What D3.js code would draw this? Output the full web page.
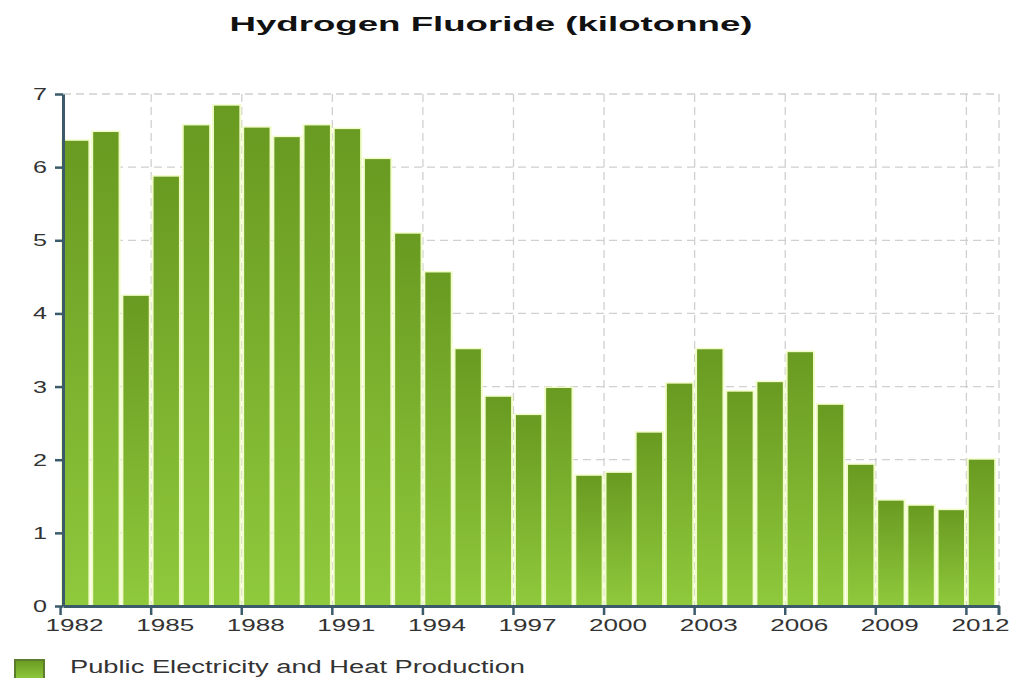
<!DOCTYPE html>
<html lang="en">
<head>
    <meta charset="UTF-8">
    <title>Hydrogen Fluoride (kilotonne)</title>
    <script src="https://d3js.org/d3.v7.min.js"></script>
    <style>
        body {
            margin: 0;
            background: #fff;
            font-family: "Liberation Sans", Arial, sans-serif;
        }
    </style>
</head>
<body>
    <div id="chart"></div>

    <script>
        // data
        const years = d3.range(1982, 2013).map(String);
        const values = [6.36, 6.48, 4.24, 5.87, 6.57, 6.84, 6.54, 6.41, 6.57, 6.52,
                        6.11, 5.09, 4.56, 3.51, 2.86, 2.61, 2.98, 1.78, 1.82, 2.37,
                        3.04, 3.51, 2.93, 3.06, 3.47, 2.75, 1.93, 1.44, 1.37, 1.31, 2.00];
        const yTicks = [0, 1, 2, 3, 4, 5, 6, 7];
        const xTickYears = ["1982", "1985", "1988", "1991", "1994", "1997", "2000", "2003", "2006", "2009", "2012"];
        const seriesName = "Public Electricity and Heat Production";

        const width = 1017, height = 678;
        const margin = {top: 94, right: 18, bottom: 72, left: 63};
        const innerW = width - margin.left - margin.right;
        const innerH = height - margin.top - margin.bottom;

        // the source picture is stretched sideways, so text gets stretched too
        const stretch = 1.42;

        const svg = d3.select("#chart").append("svg")
            .attr("width", width)
            .attr("height", height);

        const defs = svg.append("defs");
        const grad = defs.append("linearGradient")
            .attr("id", "barGrad")
            .attr("x1", 0).attr("y1", 0).attr("x2", 0).attr("y2", 1);
        grad.append("stop").attr("offset", "0%").attr("stop-color", "#699a21");
        grad.append("stop").attr("offset", "100%").attr("stop-color", "#8fc93c");

        svg.append("text")
            .attr("x", 491)
            .attr("y", 31)
            .attr("text-anchor", "middle")
            .attr("textLength", 523)
            .attr("lengthAdjust", "spacingAndGlyphs")
            .style("font-weight", "bold")
            .style("font-size", "21px")
            .attr("fill", "#111")
            .text("Hydrogen Fluoride (kilotonne)");

        const g = svg.append("g")
            .attr("transform", `translate(${margin.left},${margin.top})`);

        const x = d3.scaleBand()
            .domain(years)
            .range([0, innerW])
            .paddingInner(0.16)
            .paddingOuter(0.08)
            .align(0);

        const y = d3.scaleLinear()
            .domain([0, 7])
            .range([innerH, 0]);

        const bandStart = d => x(d) - x.step() * x.paddingOuter();

        // grid
        const grid = g.append("g").attr("class", "grid");
        grid.selectAll("line.h")
            .data(yTicks.filter(d => d > 0))
            .enter().append("line")
            .attr("class", "h")
            .attr("x1", 0).attr("x2", innerW)
            .attr("y1", d => y(d)).attr("y2", d => y(d));
        grid.selectAll("line.v")
            .data(xTickYears.slice(1))
            .enter().append("line")
            .attr("class", "v")
            .attr("x1", d => bandStart(d)).attr("x2", d => bandStart(d))
            .attr("y1", 0).attr("y2", innerH);
        grid.append("line")
            .attr("x1", innerW).attr("x2", innerW)
            .attr("y1", 0).attr("y2", innerH);
        grid.selectAll("line")
            .attr("stroke", "#d0d0d0")
            .attr("stroke-width", 1.3)
            .attr("stroke-dasharray", "8,5");

        // pale halo behind each bar
        g.selectAll("rect.halo")
            .data(values)
            .enter().append("rect")
            .attr("class", "halo")
            .attr("x", (d, i) => x(years[i]) - 2)
            .attr("width", x.bandwidth() + 4)
            .attr("y", d => y(d) - 1.5)
            .attr("height", d => innerH - y(d) + 1.5)
            .attr("fill", "#f1fcc8");

        // bars
        g.selectAll("rect.bar")
            .data(values)
            .enter().append("rect")
            .attr("class", "bar")
            .attr("x", (d, i) => x(years[i]))
            .attr("width", x.bandwidth())
            .attr("y", d => y(d))
            .attr("height", d => innerH - y(d))
            .attr("fill", "url(#barGrad)");

        // y axis
        const yAxis = g.append("g")
            .call(d3.axisLeft(y).tickValues(yTicks).tickFormat(d3.format("d")).tickSize(8).tickSizeOuter(0));
        // x axis
        const xAxis = g.append("g")
            .attr("transform", `translate(0,${innerH})`)
            .call(d3.axisBottom(x).tickValues(xTickYears).tickSize(9).tickSizeOuter(0));
        xAxis.selectAll(".tick")
            .attr("transform", d => `translate(${bandStart(d)},0)`);
        xAxis.selectAll(".tick text")
            .attr("x", 14)
            .attr("y", 13)
            .attr("dy", "0.71em")
            .attr("textLength", 58)
            .attr("lengthAdjust", "spacingAndGlyphs");
        xAxis.append("line")
            .attr("x1", innerW).attr("x2", innerW)
            .attr("y1", 0).attr("y2", 9)
            .attr("stroke", "#3b5b6b").attr("stroke-width", 3);

        [xAxis, yAxis].forEach(a => {
            a.select(".domain").attr("stroke", "#3b5b6b").attr("stroke-width", 3);
            a.selectAll(".tick line").attr("stroke", "#3b5b6b").attr("stroke-width", 2.5);
            a.selectAll(".tick text")
                .attr("fill", "#333")
                .style("font-family", "'Liberation Sans', Arial, sans-serif")
                .style("font-size", "17px");
        });
        yAxis.selectAll(".tick text")
            .attr("x", -16)
            .attr("textLength", 14)
            .attr("lengthAdjust", "spacingAndGlyphs");

        // legend
        const legend = svg.append("g").attr("transform", "translate(15,660)");
        legend.append("rect")
            .attr("width", 29).attr("height", 19)
            .attr("fill", "url(#barGrad)")
            .attr("stroke", "#5b7d2c").attr("stroke-width", 2);
        legend.append("text")
            .attr("x", 55).attr("y", 13)
            .attr("fill", "#333")
            .attr("textLength", 455)
            .attr("lengthAdjust", "spacingAndGlyphs")
            .style("font-size", "18px")
            .text(seriesName);
    </script>
</body>
</html>
